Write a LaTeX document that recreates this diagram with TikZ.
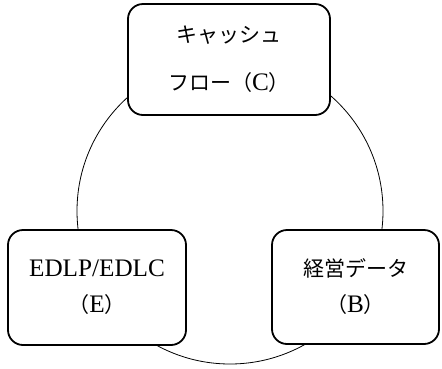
\documentclass[tikz,border=0pt]{standalone}
\usepackage{fontspec}
\setmainfont{Liberation Serif}[Scale=1.2]
\newfontfamily\jp{Noto Sans CJK JP}
\begin{document}
\begin{tikzpicture}[x=1pt,y=-1pt,
  box/.style={draw=black, fill=white, line width=1.8pt, rounded corners=15pt,
    align=center, inner sep=0pt, font=\fontsize{21}{34}\selectfont},
  ring/.style={draw=black, line width=0.8pt}]
\useasboundingbox (0,0) rectangle (442,368);
\coordinate (ctr) at (230,211);
\draw[ring] (ctr) circle (153);
\node[box, minimum width=202pt, minimum height=111pt,
  font=\fontsize{21}{48}\selectfont] (C) at (229,59.5)
  {{\jp キャッシュ}\\{\jp フロー（}C{\jp ）}};
\node[box, minimum width=178pt, minimum height=115pt] (E) at (97,287.5)
  {EDLP/EDLC\\[2pt]{\jp （}E{\jp ）}};
\node[box, minimum width=167pt, minimum height=114pt] (B) at (355.5,287)
  {{\jp 経営データ}\\[2pt]{\jp （}B{\jp ）}};
\end{tikzpicture}
\end{document}
